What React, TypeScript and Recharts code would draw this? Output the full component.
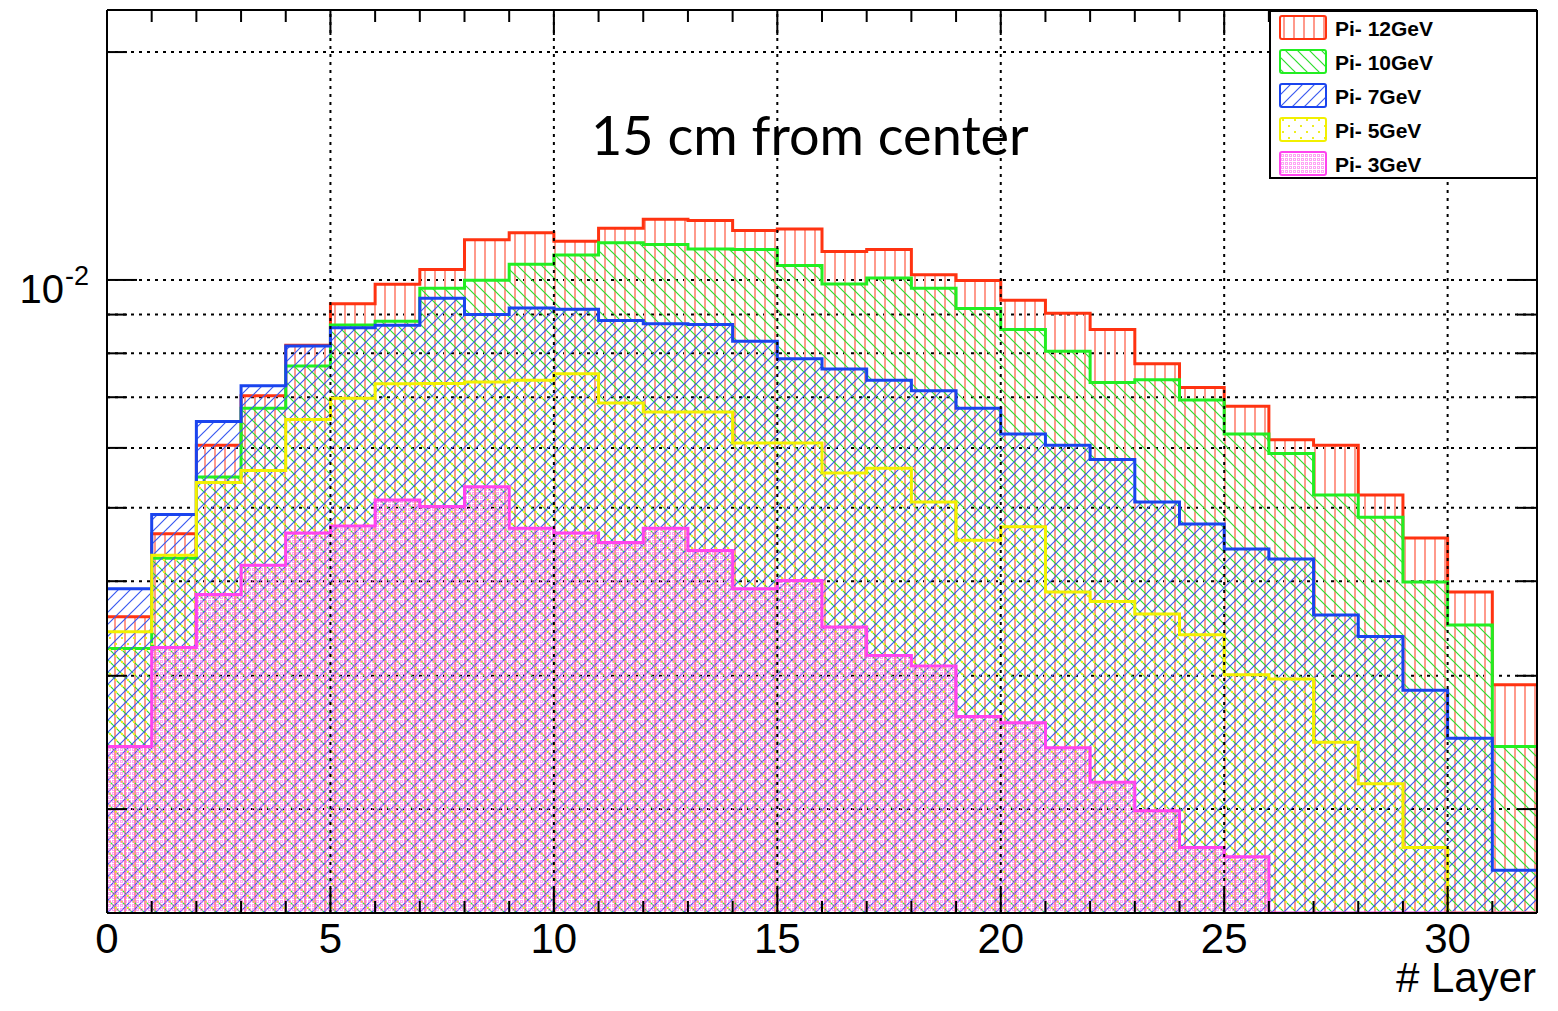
import React from 'react';
import { ComposedChart, Area, XAxis, YAxis, CartesianGrid, ReferenceLine, Legend } from 'recharts';

// bin edges 0..32 (layer number), one value per bin
const layerEdges = [0, 1, 2, 3, 4, 5, 6, 7, 8, 9, 10, 11, 12, 13, 14, 15, 16, 17, 18, 19, 20, 21, 22, 23, 24, 25, 26, 27, 28, 29, 30, 31, 32];
const xTicks = layerEdges;
const xGrid = [5, 10, 15, 20, 25, 30];
const yTicks = [0.002, 0.003, 0.004, 0.005, 0.006, 0.007, 0.008, 0.009, 0.01, 0.02];

const pi12 = [3.59e-3, 4.62e-3, 6.05e-3, 7.03e-3, 8.2e-3, 9.3e-3, 9.87e-3, 1.032e-2, 1.13e-2, 1.154e-2, 1.125e-2, 1.17e-2, 1.203e-2, 1.198e-2, 1.162e-2, 1.168e-2, 1.09e-2, 1.097e-2, 1.016e-2, 9.98e-3, 9.4e-3, 9.04e-3, 8.6e-3, 7.75e-3, 7.21e-3, 6.81e-3, 6.15e-3, 6.05e-3, 5.2e-3, 4.56e-3, 3.87e-3, 2.92e-3];
const pi10 = [3.26e-3, 4.29e-3, 5.49e-3, 6.77e-3, 7.7e-3, 8.72e-3, 8.82e-3, 9.75e-3, 9.99e-3, 1.049e-2, 1.079e-2, 1.12e-2, 1.114e-2, 1.099e-2, 1.097e-2, 1.045e-2, 9.88e-3, 1.006e-2, 9.75e-3, 9.17e-3, 8.6e-3, 8.05e-3, 7.32e-3, 7.38e-3, 6.94e-3, 6.26e-3, 5.9e-3, 5.2e-3, 4.86e-3, 3.99e-3, 3.5e-3, 2.42e-3];
const pi7 = [3.91e-3, 4.9e-3, 6.5e-3, 7.25e-3, 8.18e-3, 8.65e-3, 8.71e-3, 9.46e-3, 9.0e-3, 9.18e-3, 9.15e-3, 8.84e-3, 8.75e-3, 8.73e-3, 8.3e-3, 7.87e-3, 7.63e-3, 7.37e-3, 7.14e-3, 6.77e-3, 6.26e-3, 6.05e-3, 5.79e-3, 5.09e-3, 4.76e-3, 4.41e-3, 4.28e-3, 3.61e-3, 3.38e-3, 2.87e-3, 2.48e-3, 1.66e-3];
const pi5 = [3.43e-3, 4.33e-3, 5.4e-3, 5.6e-3, 6.54e-3, 6.98e-3, 7.29e-3, 7.3e-3, 7.33e-3, 7.37e-3, 7.52e-3, 6.88e-3, 6.69e-3, 6.69e-3, 6.09e-3, 6.09e-3, 5.56e-3, 5.64e-3, 5.09e-3, 4.53e-3, 4.72e-3, 3.87e-3, 3.76e-3, 3.62e-3, 3.4e-3, 3.01e-3, 2.97e-3, 2.45e-3, 2.16e-3, 1.78e-3, 0, 0];
const pi3 = [2.42e-3, 3.27e-3, 3.84e-3, 4.2e-3, 4.63e-3, 4.73e-3, 5.12e-3, 5.02e-3, 5.33e-3, 4.7e-3, 4.63e-3, 4.5e-3, 4.7e-3, 4.39e-3, 3.91e-3, 4.01e-3, 3.48e-3, 3.19e-3, 3.09e-3, 2.65e-3, 2.6e-3, 2.41e-3, 2.17e-3, 1.99e-3, 1.78e-3, 1.73e-3, 0, 0, 0, 0, 0, 0];

const Y_MIN = 0.001458;
const Y_MAX = 0.02273;

const W = 1558;
const H = 1011;
const PLOT_LEFT = 107;
const PLOT_RIGHT = 1537;
const PLOT_TOP = 10;
const PLOT_BOTTOM = 913;
const FONT = '"Liberation Sans", Arial, Helvetica, sans-serif';

const series = [
  { key: 'pi12', name: 'Pi- 12GeV', values: pi12, stroke: '#ff3311', pat: 'red' },
  { key: 'pi10', name: 'Pi- 10GeV', values: pi10, stroke: '#22ee22', pat: 'green' },
  { key: 'pi7', name: 'Pi- 7GeV', values: pi7, stroke: '#1a44ee', pat: 'blue' },
  { key: 'pi5', name: 'Pi- 5GeV', values: pi5, stroke: '#f2f000', pat: 'yellow' },
  { key: 'pi3', name: 'Pi- 3GeV', values: pi3, stroke: '#ff44ee', pat: 'magenta' },
];

// step histogram rows: last edge repeats the last bin so the step closes at 32
const data = layerEdges.map((x) => {
  const row: any = { x };
  series.forEach((s) => {
    const v = s.values[Math.min(x, s.values.length - 1)];
    row[s.key] = Math.max(v, Y_MIN);
  });
  return row;
});

const patterns = (p: string) => (
  <>
    <pattern id={`${p}-red`} patternUnits="userSpaceOnUse" width={10} height={10}>
      <rect x={4} y={0} width={2} height={10} fill="#ff9a8c" />
    </pattern>
    <pattern id={`${p}-green`} patternUnits="userSpaceOnUse" width={12} height={12}>
      <path d="M0 0L12 12M-3 9L3 15M9 -3L15 3" stroke="#2ddd2d" strokeWidth={1.2} />
    </pattern>
    <pattern id={`${p}-blue`} patternUnits="userSpaceOnUse" width={12} height={12}>
      <path d="M0 12L12 0M-3 3L3 -3M9 15L15 9" stroke="#3a5af0" strokeWidth={1.2} />
    </pattern>
    <pattern id={`${p}-yellow`} patternUnits="userSpaceOnUse" width={12} height={12}>
      <rect x={1} y={1} width={2} height={2} fill="#eeee22" />
      <rect x={7} y={7} width={2} height={2} fill="#eeee22" />
    </pattern>
    <pattern id={`${p}-magenta`} patternUnits="userSpaceOnUse" width={4} height={4}>
      <path d="M0 0h3v3h-3z M1 1v1h1v-1z" fillRule="evenodd" fill="#ff66ee" fillOpacity={0.6} />
    </pattern>
  </>
);

const XTick = (props: any) => {
  const { x, payload } = props;
  const v = payload.value;
  const major = v % 5 === 0;
  const len = major ? 25 : 12;
  return (
    <g>
      <line x1={x} x2={x} y1={PLOT_BOTTOM} y2={PLOT_BOTTOM - len} stroke="#000" strokeWidth={2} />
      <line x1={x} x2={x} y1={PLOT_TOP} y2={PLOT_TOP + len} stroke="#000" strokeWidth={2} />
      {major && v <= 30 && (
        <text x={x} y={953} textAnchor="middle" fontSize={42} fontFamily={FONT} fill="#000">
          {v}
        </text>
      )}
    </g>
  );
};

const YTick = (props: any) => {
  const { y, payload } = props;
  const major = payload.value === 0.01;
  const len = major ? 30 : 20;
  return (
    <g>
      <line x1={PLOT_LEFT} x2={PLOT_LEFT + len} y1={y} y2={y} stroke="#000" strokeWidth={2} />
      <line x1={PLOT_RIGHT} x2={PLOT_RIGHT - len} y1={y} y2={y} stroke="#000" strokeWidth={2} />
      {major && (
        <text x={64} y={y + 23} textAnchor="end" fontSize={40} fontFamily={FONT} fill="#000">
          10
        </text>
      )}
      {major && (
        <text x={65} y={y + 5} textAnchor="start" fontSize={27} fontFamily={FONT} fill="#000">
          -2
        </text>
      )}
    </g>
  );
};

// legend keeps the order of the series list (12, 10, 7, 5, 3 GeV)
const renderLegend = () => (
  <svg width={269} height={170} style={{ display: 'block' }}>
    <defs>{patterns('lg')}</defs>
    <rect x={1} y={1} width={267} height={167} fill="#fff" stroke="#000" strokeWidth={2} />
    {series.map((s, i) => (
      <g key={s.key}>
        <rect x={11} y={6 + i * 34} width={46} height={23} fill={`url(#lg-${s.pat})`} stroke={s.stroke} strokeWidth={2} rx={2} />
        <text x={66} y={26 + i * 34} fontSize={21} fontWeight="bold" fontFamily={FONT} fill="#000">
          {s.name}
        </text>
      </g>
    ))}
  </svg>
);

export default function App() {
  return (
    <div style={{ position: 'absolute', left: 0, top: 0, width: W, height: H, background: '#fff' }}>
      <ComposedChart width={W} height={H} data={data} margin={{ top: PLOT_TOP, right: W - PLOT_RIGHT, bottom: 0, left: 0 }}>
        <defs>{patterns('pt')}</defs>
        <XAxis
          dataKey="x"
          type="number"
          domain={[0, 32]}
          ticks={xTicks}
          interval={0}
          allowDataOverflow
          height={H - PLOT_BOTTOM}
          tickSize={0}
          tickMargin={0}
          tick={<XTick />}
          axisLine={{ stroke: '#000', strokeWidth: 2 }}
        />
        <YAxis
          type="number"
          scale="log"
          domain={[Y_MIN, Y_MAX]}
          allowDataOverflow
          ticks={yTicks}
          interval={0}
          width={PLOT_LEFT}
          tickSize={0}
          tickMargin={0}
          tick={<YTick />}
          axisLine={{ stroke: '#000', strokeWidth: 2 }}
        />
        {series.map((s) => (
          <Area
            key={s.key}
            dataKey={s.key}
            name={s.name}
            type="stepAfter"
            baseValue={Y_MIN}
            stroke={s.stroke}
            strokeWidth={3}
            fill={`url(#pt-${s.pat})`}
            fillOpacity={1}
            isAnimationActive={false}
            dot={false}
            activeDot={false}
          />
        ))}
        <CartesianGrid vertical={false} stroke="#000" strokeWidth={2} strokeDasharray="3 5" />
        {xGrid.map((g) => (
          <ReferenceLine key={g} x={g} stroke="#000" strokeWidth={2} strokeDasharray="3 5" />
        ))}
        <ReferenceLine y={Y_MAX} stroke="#000" strokeWidth={2} />
        <ReferenceLine x={32} stroke="#000" strokeWidth={2} />
        <Legend
          layout="horizontal"
          verticalAlign="middle"
          align="center"
          content={renderLegend}
          wrapperStyle={{ left: 1269, top: 10, width: 269, height: 170 }}
        />
      </ComposedChart>
      <svg width={W} height={H} style={{ position: 'absolute', left: 0, top: 0, pointerEvents: 'none' }}>
        <text x={591} y={155} fontSize={54} fontFamily='Lato, "Open Sans", sans-serif' fill="#000">
          15 cm from center
        </text>
        <text x={1536} y={992} textAnchor="end" fontSize={42} fontFamily={FONT} fill="#000">
          # Layer
        </text>
      </svg>
    </div>
  );
}
